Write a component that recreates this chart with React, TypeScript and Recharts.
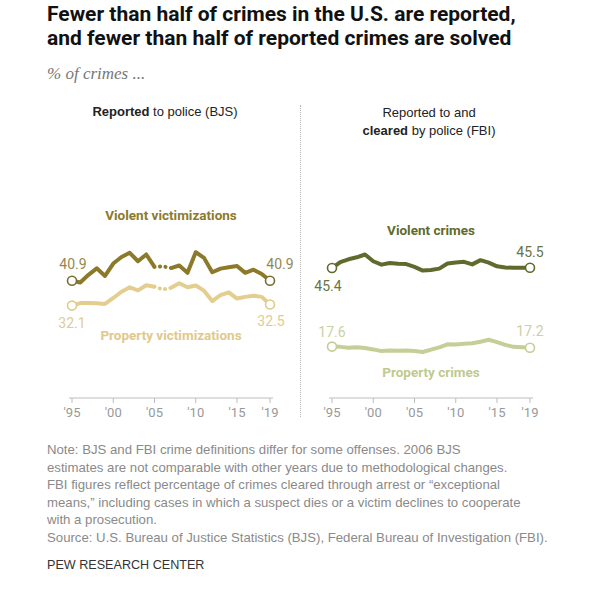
import { LineChart, Line, XAxis, YAxis } from 'recharts';

const years = [
  1995, 1996, 1997, 1998, 1999, 2000, 2001, 2002, 2003, 2004, 2005, 2006,
  2007, 2008, 2009, 2010, 2011, 2012, 2013, 2014, 2015, 2016, 2017, 2018, 2019,
];
const tickYears = [1995, 2000, 2005, 2010, 2015, 2019];

// % reported to police (BJS); 2006 not comparable
const bjsViolent = [
  40.9, 40.3, 43.0, 45.3, 42.6, 47.0, 49.3, 50.8, 47.8, 50.2, 45.8, 46.0,
  45.4, 46.3, 43.7, 51.0, 49.0, 43.9, 45.2, 45.7, 46.1, 43.7, 44.8, 43.3, 40.9,
];
const bjsProperty = [
  32.1, 33.0, 33.0, 32.9, 32.7, 34.8, 37.0, 38.6, 37.5, 39.3, 38.8, 37.8,
  38.4, 40.0, 38.6, 39.2, 37.4, 33.7, 35.8, 36.8, 34.6, 35.2, 35.6, 35.2, 32.5,
];

// % reported and cleared (FBI)
const fbiViolent = [
  45.4, 47.5, 48.5, 49.2, 50.2, 47.8, 46.6, 47.2, 46.9, 46.8, 45.8, 44.5,
  44.7, 45.2, 47.0, 47.4, 47.6, 46.7, 48.2, 47.3, 46.0, 45.6, 45.5, 45.5, 45.5,
];
const fbiProperty = [
  17.6, 17.5, 17.2, 17.4, 17.1, 16.6, 16.0, 16.2, 16.1, 16.2, 16.0, 15.7,
  16.5, 17.3, 18.4, 18.3, 18.6, 18.8, 19.3, 20.0, 19.2, 18.2, 17.5, 17.4, 17.2,
];

const GAP_YEAR = 2006;

const leftData = years.map((year, i) => {
  const inGap = year >= GAP_YEAR - 1 && year <= GAP_YEAR + 1;
  return {
    year,
    violent: year === GAP_YEAR ? null : bjsViolent[i],
    violentGap: inGap ? bjsViolent[i] : null,
    property: year === GAP_YEAR ? null : bjsProperty[i],
    propertyGap: inGap ? bjsProperty[i] : null,
  };
});

const rightData = years.map((year, i) => ({
  year,
  violent: fbiViolent[i],
  property: fbiProperty[i],
}));

const SANS = 'Roboto, "Liberation Sans", Arial, sans-serif';
const ARIAL = '"Liberation Sans", Arial, sans-serif';

const C = {
  bjsViolent: '#8C7A2B',
  bjsProperty: '#E3CE8F',
  fbiViolent: '#5F6B2D',
  fbiProperty: '#C4CE97',
  axis: '#BDBDBD',
  tick: '#999',
};

type EndLabel = { dx: number; dy: number; anchor: 'start' | 'middle' | 'end' };

// endpoint circle + value label
function endDot(color: string, textColor: string, first: EndLabel, last: EndLabel) {
  return (props: any) => {
    const { cx, cy, index, value } = props;
    const n = years.length;
    if (value == null || (index !== 0 && index !== n - 1)) {
      return <g key={`d-${index}`} />;
    }
    const lab = index === 0 ? first : last;
    return (
      <g key={`d-${index}`}>
        <circle cx={cx} cy={cy} r={4.5} fill="#fff" stroke={color} strokeWidth={1.6} />
        <text
          x={cx + lab.dx}
          y={cy + lab.dy}
          textAnchor={lab.anchor}
          fontSize={14}
          fontFamily={SANS}
          fill={textColor}
        >
          {Number(value).toFixed(1)}
        </text>
      </g>
    );
  };
}

const yearTick = (v: number) => `'${String(v).slice(2)}`;

function Panel({ data, children }: { data: any[]; children: any }) {
  return (
    <LineChart
      width={268}
      height={220}
      data={data}
      margin={{ top: 26.8, right: 35, left: 29, bottom: 2 }}
    >
      <XAxis
        dataKey="year"
        type="number"
        domain={[1995, 2019]}
        ticks={tickYears}
        tickFormatter={yearTick}
        padding={{ left: 3, right: 3 }}
        height={20}
        stroke={C.axis}
        tickSize={5}
        tickMargin={5}
        tick={{ fontSize: 13, fill: C.tick, fontFamily: SANS }}
        interval={0}
      />
      <YAxis hide domain={[-0.6, 60]} />
      {children}
    </LineChart>
  );
}

const abs = (x: number, y: number, extra: any = {}) => ({
  position: 'absolute' as const,
  left: x,
  top: y,
  whiteSpace: 'nowrap' as const,
  ...extra,
});

const centered = (cx: number, y: number, extra: any = {}) =>
  abs(cx - 150, y, { width: 300, textAlign: 'center', ...extra });

const noteLines = [
  'Note: BJS and FBI crime definitions differ for some offenses. 2006 BJS',
  'estimates are not comparable with other years due to methodological changes.',
  'FBI figures reflect percentage of crimes cleared through arrest or \u201cexceptional',
  'means,\u201d including cases in which a suspect dies or a victim declines to cooperate',
  'with a prosecution.',
  'Source: U.S. Bureau of Justice Statistics (BJS), Federal Bureau of Investigation (FBI).',
];

export default function App() {
  return (
    <div
      style={{
        position: 'absolute',
        left: 0,
        top: 0,
        width: 600,
        height: 598,
        background: '#fff',
        fontFamily: SANS,
        overflow: 'hidden',
      }}
    >
      <div style={abs(47, 2, { fontSize: 21, fontWeight: 700, lineHeight: '24px', color: '#111' })}>
        Fewer than half of crimes in the U.S. are reported,
        <br />
        and fewer than half of reported crimes are solved
      </div>
      <div
        style={abs(47, 64, {
          fontSize: 17,
          fontStyle: 'italic',
          fontFamily: '"Liberation Serif", "DejaVu Serif", serif',
          color: '#777',
        })}
      >
        % of crimes ...
      </div>

      <div style={centered(165, 104, { fontSize: 13, color: '#222', fontFamily: ARIAL })}>
        <b>Reported</b> to police (BJS)
      </div>
      <div
        style={centered(429, 104, {
          fontSize: 13,
          color: '#222',
          lineHeight: '18px',
          fontFamily: ARIAL,
        })}
      >
        Reported to and
        <br />
        <b>cleared</b> by police (FBI)
      </div>

      <div
        style={abs(300, 105, {
          width: 0,
          height: 312,
          borderLeft: '1px dotted #b5b5b5',
        })}
      />

      <div style={abs(40, 200)}>
        <Panel data={leftData}>
          <Line
            dataKey="violentGap"
            stroke={C.bjsViolent}
            strokeWidth={4}
            strokeDasharray="0.1 5.4"
            strokeLinecap="round"
            dot={false}
            isAnimationActive={false}
          />
          <Line
            dataKey="propertyGap"
            stroke={C.bjsProperty}
            strokeWidth={4}
            strokeDasharray="0.1 5.4"
            strokeLinecap="round"
            dot={false}
            isAnimationActive={false}
          />
          <Line
            dataKey="property"
            stroke={C.bjsProperty}
            strokeWidth={4}
            strokeLinejoin="round"
            connectNulls={false}
            dot={endDot(
              '#E0CB8B',
              '#E0CC92',
              { dx: 0, dy: 22, anchor: 'middle' },
              { dx: 1, dy: 22, anchor: 'middle' }
            )}
            isAnimationActive={false}
          />
          <Line
            dataKey="violent"
            stroke={C.bjsViolent}
            strokeWidth={4}
            strokeLinejoin="round"
            connectNulls={false}
            dot={endDot(
              '#7A6C33',
              '#958751',
              { dx: 1, dy: -12, anchor: 'middle' },
              { dx: 10, dy: -12, anchor: 'middle' }
            )}
            isAnimationActive={false}
          />
        </Panel>
      </div>

      <div style={abs(300, 200)}>
        <Panel data={rightData}>
          <Line
            dataKey="property"
            stroke={C.fbiProperty}
            strokeWidth={4}
            strokeLinejoin="round"
            dot={endDot(
              '#C4CE97',
              '#C9D1A3',
              { dx: 0, dy: -10, anchor: 'middle' },
              { dx: 0, dy: -12, anchor: 'middle' }
            )}
            isAnimationActive={false}
          />
          <Line
            dataKey="violent"
            stroke={C.fbiViolent}
            strokeWidth={4}
            strokeLinejoin="round"
            dot={endDot(
              '#5F6B2D',
              '#6A7443',
              { dx: -4, dy: 23, anchor: 'middle' },
              { dx: 0, dy: -11, anchor: 'middle' }
            )}
            isAnimationActive={false}
          />
        </Panel>
      </div>

      <div style={centered(171, 207, { fontSize: 13.5, fontWeight: 700, color: C.bjsViolent })}>
        Violent victimizations
      </div>
      <div style={centered(171, 327, { fontSize: 13.5, fontWeight: 700, color: '#E0C98A' })}>
        Property victimizations
      </div>
      <div style={centered(431, 222, { fontSize: 13.5, fontWeight: 700, color: C.fbiViolent })}>
        Violent crimes
      </div>
      <div style={centered(431, 364, { fontSize: 13.5, fontWeight: 700, color: '#BFCA90' })}>
        Property crimes
      </div>

      <div
        style={abs(47, 441, {
          fontSize: 13.2,
          lineHeight: '17.5px',
          color: '#8a8a8a',
          fontFamily: ARIAL,
        })}
      >
        {noteLines.map((l) => (
          <div key={l}>{l}</div>
        ))}
      </div>
      <div style={abs(47, 558, { fontSize: 12.6, color: '#333', fontFamily: ARIAL })}>
        PEW RESEARCH CENTER
      </div>
    </div>
  );
}
